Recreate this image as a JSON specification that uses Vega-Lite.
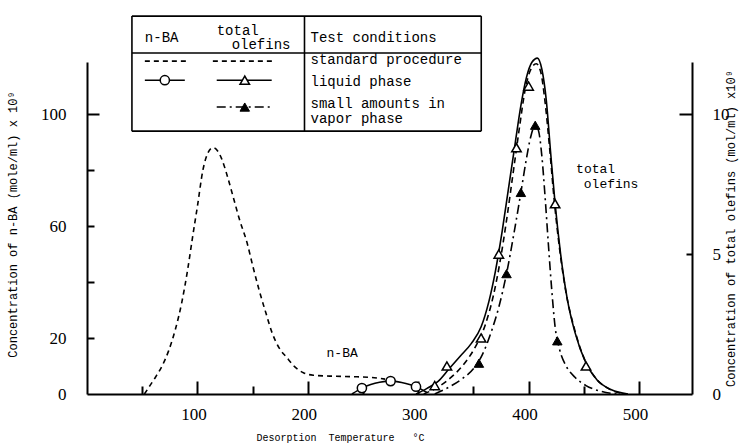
{
  "$schema": "https://vega.github.io/schema/vega-lite/v6.json",
  "width": 605,
  "height": 332,
  "autosize": {"type": "none"},
  "padding": {"left": 87, "top": 62, "right": 52, "bottom": 51},
  "background": "white",
  "config": {
    "view": {"stroke": null},
    "axis": {
      "grid": false,
      "domainColor": "black",
      "domainWidth": 2,
      "tickColor": "black",
      "tickWidth": 2,
      "labelColor": "black",
      "titleColor": "black",
      "labelFont": "Liberation Sans Narrow",
      "labelFontSize": 17,
      "titleFont": "Liberation Mono",
      "titleFontWeight": "normal",
      "titleFontSize": 12
    }
  },
  "datasets": {
    "nba_std": [
      {"x": 52, "y": 0}, {"x": 57, "y": 3}, {"x": 62, "y": 6}, {"x": 68, "y": 10}, {"x": 74, "y": 15.5},
      {"x": 80, "y": 23}, {"x": 86, "y": 33}, {"x": 91, "y": 44}, {"x": 96, "y": 57}, {"x": 100, "y": 67},
      {"x": 105, "y": 80}, {"x": 110, "y": 86.5}, {"x": 114, "y": 88}, {"x": 118, "y": 87}, {"x": 122, "y": 84},
      {"x": 127, "y": 78}, {"x": 132, "y": 71}, {"x": 138, "y": 62.5}, {"x": 145, "y": 54}, {"x": 150, "y": 46},
      {"x": 156, "y": 37}, {"x": 162, "y": 29}, {"x": 168, "y": 21.5}, {"x": 174, "y": 16.5}, {"x": 181, "y": 13},
      {"x": 188, "y": 9.8}, {"x": 196, "y": 7.6}, {"x": 205, "y": 6.7}, {"x": 220, "y": 6.4}, {"x": 240, "y": 6.2},
      {"x": 258, "y": 5.9}, {"x": 270, "y": 5.3}
    ],
    "nba_liq": [
      {"x": 240, "y": 0}, {"x": 245, "y": 1.2}, {"x": 250, "y": 2.3}, {"x": 257, "y": 3.4}, {"x": 265, "y": 4.2},
      {"x": 275, "y": 4.6}, {"x": 285, "y": 4.1}, {"x": 293, "y": 3.3}, {"x": 299, "y": 2.5}, {"x": 304, "y": 1.4},
      {"x": 308, "y": 0.5}
    ],
    "nba_pts": [
      {"x": 249, "y": 2.1}, {"x": 275, "y": 4.6}, {"x": 298, "y": 2.6}
    ],
    "legend_box": [
      {"x": 40.7, "x2": 357.1, "y": 135, "y2": 135},
      {"x": 40.7, "x2": 357.1, "y": 121.8, "y2": 121.8},
      {"x": 40.7, "x2": 357.1, "y": 93.9, "y2": 93.9},
      {"x": 40.7, "x2": 40.7, "y": 135, "y2": 93.9},
      {"x": 197, "x2": 197, "y": 135, "y2": 93.9},
      {"x": 357.1, "x2": 357.1, "y": 135, "y2": 93.9}
    ],
    "legend_dash": [
      {"x": 52.4, "x2": 90.4, "y": 118.9},
      {"x": 114, "x2": 168, "y": 118.9}
    ],
    "legend_solid": [
      {"x": 52.4, "x2": 88.6, "y": 112.1},
      {"x": 117.5, "x2": 167.3, "y": 112.1}
    ],
    "legend_dashdot": [
      {"x": 117.5, "x2": 167.3, "y": 102.5}
    ],
    "legend_circle": [{"x": 70.5, "y": 112.1}],
    "legend_open_tri": [{"x": 142.9, "y": 112.1}],
    "legend_filled_tri": [{"x": 142.9, "y": 102.5}],
    "legend_text": [
      {"x": 52.4, "y": 127.1, "text": "n-BA"},
      {"x": 117.5, "y": 129.8, "text": "total"},
      {"x": 131, "y": 124.6, "text": "olefins"},
      {"x": 202.5, "y": 127.1, "text": "Test conditions"},
      {"x": 202.5, "y": 119.3, "text": "standard procedure"},
      {"x": 202.5, "y": 111.4, "text": "liquid phase"},
      {"x": 202.5, "y": 103.6, "text": "small amounts in"},
      {"x": 202.5, "y": 98.2, "text": "vapor phase"}
    ],
    "plot_text": [
      {"x": 217, "y": 14.6, "text": "n-BA"},
      {"x": 443, "y": 80.5, "text": "total"},
      {"x": 450, "y": 75.0, "text": "olefins"}
    ],
    "olef_liq": [
      {"x": 298, "y": 0}, {"x": 308, "y": 0.2}, {"x": 318, "y": 0.45}, {"x": 328, "y": 0.9}, {"x": 338, "y": 1.35},
      {"x": 348, "y": 1.8}, {"x": 357, "y": 2.4}, {"x": 364, "y": 3.3}, {"x": 370, "y": 4.4}, {"x": 376, "y": 5.8},
      {"x": 382, "y": 7.4}, {"x": 388, "y": 9.0}, {"x": 393, "y": 10.3}, {"x": 398, "y": 11.3}, {"x": 403, "y": 11.85},
      {"x": 408, "y": 12.0}, {"x": 412, "y": 11.6}, {"x": 416, "y": 10.5}, {"x": 420, "y": 8.6}, {"x": 424, "y": 6.8},
      {"x": 429, "y": 5.0}, {"x": 435, "y": 3.4}, {"x": 442, "y": 2.2}, {"x": 452, "y": 1.1}, {"x": 462, "y": 0.5},
      {"x": 475, "y": 0.15}, {"x": 490, "y": 0}
    ],
    "olef_std": [
      {"x": 305, "y": 0}, {"x": 318, "y": 0.25}, {"x": 330, "y": 0.6}, {"x": 342, "y": 1.1}, {"x": 352, "y": 1.7},
      {"x": 361, "y": 2.5}, {"x": 368, "y": 3.5}, {"x": 374, "y": 4.7}, {"x": 380, "y": 6.2}, {"x": 386, "y": 7.9},
      {"x": 392, "y": 9.6}, {"x": 397, "y": 10.9}, {"x": 402, "y": 11.6}, {"x": 407, "y": 11.8}, {"x": 411, "y": 11.5},
      {"x": 415, "y": 10.4}, {"x": 419, "y": 8.8}, {"x": 423, "y": 7.0}, {"x": 428, "y": 5.2}, {"x": 434, "y": 3.6},
      {"x": 441, "y": 2.4}, {"x": 450, "y": 1.3}, {"x": 460, "y": 0.6}, {"x": 472, "y": 0.2}, {"x": 488, "y": 0}
    ],
    "olef_vap": [
      {"x": 315, "y": 0}, {"x": 328, "y": 0.25}, {"x": 340, "y": 0.55}, {"x": 350, "y": 0.9}, {"x": 358, "y": 1.4},
      {"x": 366, "y": 2.2}, {"x": 373, "y": 3.1}, {"x": 380, "y": 4.3}, {"x": 387, "y": 5.8}, {"x": 393, "y": 7.2},
      {"x": 398, "y": 8.4}, {"x": 402, "y": 9.2}, {"x": 406, "y": 9.6}, {"x": 409, "y": 9.4}, {"x": 412, "y": 8.5},
      {"x": 415, "y": 7.0}, {"x": 418, "y": 5.3}, {"x": 421, "y": 3.7}, {"x": 424, "y": 2.4}, {"x": 428, "y": 1.6},
      {"x": 434, "y": 1.0}, {"x": 442, "y": 0.6}, {"x": 452, "y": 0.3}, {"x": 465, "y": 0.1}, {"x": 480, "y": 0}
    ],
    "olef_open": [
      {"x": 315, "y": 0.3}, {"x": 326, "y": 1.0}, {"x": 357, "y": 2.0}, {"x": 373, "y": 5.0},
      {"x": 389, "y": 8.8}, {"x": 400, "y": 11.0}, {"x": 424, "y": 6.8}, {"x": 452, "y": 1.0}
    ],
    "olef_filled": [
      {"x": 355, "y": 1.1}, {"x": 380, "y": 4.3}, {"x": 393, "y": 7.2}, {"x": 406, "y": 9.6}, {"x": 426, "y": 1.9}
    ]
  },
  "layer": [
    {
      "encoding": {
        "x": {
          "field": "x", "type": "quantitative",
          "scale": {"domain": [0, 548], "nice": false, "zero": false},
          "axis": {
            "values": [100, 200, 300, 400, 500],
            "ticks": false,
            "tickSize": 0,
            "labelPadding": 12,
            "labelOffset": -4,
            "title": "Desorption\u00a0\u00a0Temperature\u00a0\u00a0\u00a0°C",
            "titleFontSize": 10,
            "titleX": 253,
            "titleY": 43,
            "titleAlign": "center",
            "titleBaseline": "middle",
            "titleAnchor": null
          }
        },
        "y": {
          "field": "y", "type": "quantitative",
          "scale": {"domain": [0, 118.6], "nice": false},
          "axis": null
        }
      },
      "resolve": {"axis": {"y": "independent"}},
      "layer": [
        {
          "data": {"name": "nba_std"},
          "mark": {"type": "line", "color": "black", "strokeWidth": 1.6, "strokeDash": [5, 4], "interpolate": "monotone"},
          "encoding": {
            "y": {
              "field": "y", "type": "quantitative",
              "scale": {"domain": [0, 118.6], "nice": false},
              "axis": {
                "orient": "left",
                "values": [0, 20, 60, 100],
                "ticks": false,
                "tickSize": 0,
                "labelPadding": 21,
                "labelBaseline": "middle",
                "title": "Concentration of n-BA (mole/ml) x 10⁹",
                "titleFontSize": 12,
                "titleAngle": 270,
                "titleX": -75,
                "titleY": 162,
                "titleAlign": "center",
                "titleBaseline": "middle"
              }
            }
          }
        },
        {
          "data": {"name": "nba_liq"},
          "mark": {"type": "line", "color": "black", "strokeWidth": 1.6, "interpolate": "monotone"},
          "encoding": {
            "y": {
              "field": "y", "type": "quantitative",
              "scale": {"domain": [0, 118.6], "nice": false},
              "axis": {
                "orient": "right",
                "offset": -605,
                "values": [20, 40, 60, 80, 100],
                "domain": false,
                "labels": false,
                "ticks": true,
                "tickSize": {"condition": {"test": "datum.value === 100", "value": 12}, "value": 7},
                "title": null
              }
            }
          }
        },
        {"data": {"name": "nba_pts"}, "mark": {"type": "point", "shape": "circle", "filled": true, "fill": "white", "stroke": "black", "strokeWidth": 1.5, "size": 85, "opacity": 1}},
        {"data": {"name": "legend_box"}, "mark": {"type": "rule", "color": "black", "strokeWidth": 1.6}, "encoding": {"x2": {"field": "x2"}, "y2": {"field": "y2"}}},
        {"data": {"name": "legend_dash"}, "mark": {"type": "rule", "color": "black", "strokeWidth": 1.6, "strokeDash": [5, 4]}, "encoding": {"x2": {"field": "x2"}}},
        {"data": {"name": "legend_solid"}, "mark": {"type": "rule", "color": "black", "strokeWidth": 1.6}, "encoding": {"x2": {"field": "x2"}}},
        {"data": {"name": "legend_dashdot"}, "mark": {"type": "rule", "color": "black", "strokeWidth": 1.6, "strokeDash": [9, 4, 2, 4]}, "encoding": {"x2": {"field": "x2"}}},
        {"data": {"name": "legend_circle"}, "mark": {"type": "point", "shape": "circle", "filled": true, "fill": "white", "stroke": "black", "strokeWidth": 1.5, "size": 85, "opacity": 1}},
        {"data": {"name": "legend_open_tri"}, "mark": {"type": "point", "shape": "triangle-up", "filled": true, "fill": "white", "stroke": "black", "strokeWidth": 1.5, "size": 90, "opacity": 1}},
        {"data": {"name": "legend_filled_tri"}, "mark": {"type": "point", "shape": "triangle-up", "filled": true, "fill": "black", "stroke": "black", "strokeWidth": 1, "size": 90, "opacity": 1}},
        {"data": {"name": "legend_text"}, "mark": {"type": "text", "align": "left", "baseline": "middle", "font": "Liberation Mono", "fontSize": 14, "color": "black"}, "encoding": {"text": {"field": "text"}}},
        {"data": {"name": "plot_text"}, "mark": {"type": "text", "align": "left", "baseline": "middle", "font": "Liberation Mono", "fontSize": 13, "color": "black"}, "encoding": {"text": {"field": "text"}}}
      ]
    },
    {
      "encoding": {
        "x": {
          "field": "x", "type": "quantitative",
          "scale": {"domain": [0, 548], "nice": false, "zero": false},
          "axis": {
            "orient": "top",
            "offset": -332,
            "values": [50, 100, 150, 200, 250, 300, 350, 400, 450, 500],
            "domain": false,
            "labels": false,
            "ticks": true,
            "tickSize": {"condition": {"test": "datum.value % 100 === 0", "value": 13}, "value": 8},
            "title": null
          }
        },
        "y": {
          "field": "y", "type": "quantitative",
          "scale": {"domain": [0, 11.86], "nice": false},
          "axis": null
        }
      },
      "resolve": {"axis": {"y": "independent"}},
      "layer": [
        {
          "data": {"name": "olef_std"},
          "mark": {"type": "line", "color": "black", "strokeWidth": 1.6, "strokeDash": [6, 4], "interpolate": "monotone"},
          "encoding": {
            "y": {
              "field": "y", "type": "quantitative",
              "scale": {"domain": [0, 11.86], "nice": false},
              "axis": {
                "orient": "right",
                "values": [0, 5, 10],
                "ticks": false,
                "tickSize": 0,
                "labelPadding": 20,
                "labelBaseline": "middle",
                "title": "Concentration of total olefins (mol/ml) x10⁹",
                "titleFontSize": 12,
                "titleAngle": 270,
                "titleX": 38,
                "titleY": 166,
                "titleAlign": "center",
                "titleBaseline": "middle"
              }
            }
          }
        },
        {
          "data": {"name": "olef_liq"},
          "mark": {"type": "line", "color": "black", "strokeWidth": 1.6, "interpolate": "monotone"},
          "encoding": {
            "y": {
              "field": "y", "type": "quantitative",
              "scale": {"domain": [0, 11.86], "nice": false},
              "axis": {
                "orient": "left",
                "offset": -605,
                "values": [5, 10],
                "domain": false,
                "labels": false,
                "ticks": true,
                "tickSize": {"condition": {"test": "datum.value === 10", "value": 13}, "value": 6},
                "title": null
              }
            }
          }
        },
        {"data": {"name": "olef_vap"}, "mark": {"type": "line", "color": "black", "strokeWidth": 1.6, "strokeDash": [9, 4, 2, 4], "interpolate": "monotone"}},
        {"data": {"name": "olef_open"}, "mark": {"type": "point", "shape": "triangle-up", "filled": true, "fill": "white", "stroke": "black", "strokeWidth": 1.5, "size": 90, "opacity": 1}},
        {"data": {"name": "olef_filled"}, "mark": {"type": "point", "shape": "triangle-up", "filled": true, "fill": "black", "stroke": "black", "strokeWidth": 1, "size": 90, "opacity": 1}}
      ]
    }
  ],
  "resolve": {"scale": {"y": "independent"}, "axis": {"x": "independent"}}
}
